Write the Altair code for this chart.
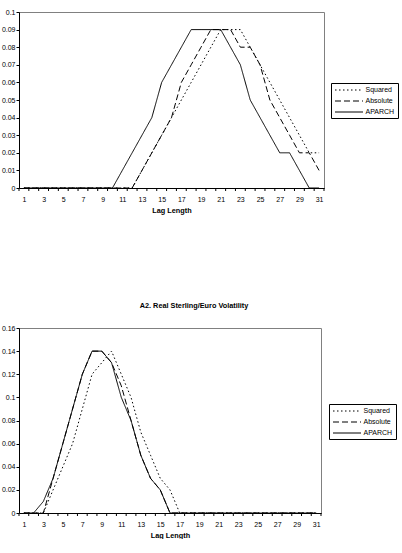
import altair as alt
import pandas as pd

FONT = "Liberation Sans"

lags = list(range(1, 32))
series_names = ["Squared", "Absolute", "APARCH"]
dash_patterns = [[1.5, 2.5], [6, 3], [1, 0]]

# Top panel (lag distribution, first series)
top_squared = [0, 0, 0, 0, 0, 0, 0, 0, 0, 0, 0,
               0, 0.01, 0.02, 0.03, 0.04, 0.05, 0.06, 0.07, 0.08, 0.09,
               0.09, 0.09, 0.08, 0.07, 0.06, 0.05, 0.04, 0.03, 0.02, 0.02]
top_absolute = [0, 0, 0, 0, 0, 0, 0, 0, 0, 0, 0,
                0, 0.01, 0.02, 0.03, 0.04, 0.06, 0.07, 0.08, 0.09, 0.09,
                0.09, 0.08, 0.08, 0.07, 0.05, 0.04, 0.03, 0.02, 0.02, 0.01]
top_aparch = [0, 0, 0, 0, 0, 0, 0, 0, 0, 0,
              0.01, 0.02, 0.03, 0.04, 0.06, 0.07, 0.08, 0.09, 0.09, 0.09,
              0.09, 0.08, 0.07, 0.05, 0.04, 0.03, 0.02, 0.02, 0.01, 0, 0]

# Bottom panel: A2. Real Sterling/Euro Volatility
bot_squared = [0, 0, 0, 0.02, 0.04, 0.06, 0.09, 0.12, 0.13, 0.14,
               0.12, 0.10, 0.07, 0.05, 0.03, 0.02, 0,
               0, 0, 0, 0, 0, 0, 0, 0, 0, 0, 0, 0, 0, 0]
bot_absolute = [0, 0, 0, 0.03, 0.06, 0.09, 0.12, 0.14, 0.14, 0.13,
                0.11, 0.08, 0.05, 0.03, 0.02, 0, 0,
                0, 0, 0, 0, 0, 0, 0, 0, 0, 0, 0, 0, 0, 0]
bot_aparch = [0, 0, 0.01, 0.03, 0.06, 0.09, 0.12, 0.14, 0.14, 0.13,
              0.10, 0.08, 0.05, 0.03, 0.02, 0, 0,
              0, 0, 0, 0, 0, 0, 0, 0, 0, 0, 0, 0, 0, 0]

x_label_values = [1, 3, 5, 7, 9, 11, 13, 15, 17, 19, 21, 23, 25, 27, 29, 31]
x_tick_positions = [i + 0.5 for i in range(0, 32)]
top_y_values = [0, 0.01, 0.02, 0.03, 0.04, 0.05, 0.06, 0.07, 0.08, 0.09, 0.1]
bot_y_values = [0, 0.02, 0.04, 0.06, 0.08, 0.1, 0.12, 0.14, 0.16]
bottom_title = "A2. Real Sterling/Euro Volatility"


def long_df(sq, ab, ap):
    rows = []
    for name, vals in zip(series_names, [sq, ab, ap]):
        for lag, v in zip(lags, vals):
            rows.append({"lag": lag, "series": name, "value": v})
    return pd.DataFrame(rows)


def panel(df, ymax, yvals, w, h, lx, ly, title=None):
    xscale = alt.Scale(domain=[0.5, 31.5], nice=False, zero=False)
    xaxis = alt.Axis(values=x_label_values, title="Lag Length", ticks=False,
                     grid=False, format="d", labelPadding=7, titlePadding=4,
                     labelFlush=False, labelOverlap=False)
    legend = alt.Legend(
        title=None, orient="none", legendX=lx, legendY=ly,
        symbolType="M-4,0H4", symbolSize=49, symbolStrokeWidth=1,
        symbolStrokeColor="black", symbolOffset=11,
        labelFont=FONT, labelFontSize=7, labelColor="black", labelOffset=12.5,
        rowPadding=4, padding=3, strokeColor="black", fillColor="white",
        cornerRadius=0,
    )
    lines = alt.Chart(df).mark_line(color="black", strokeWidth=1).encode(
        x=alt.X("lag:Q", scale=xscale, axis=xaxis),
        y=alt.Y("value:Q", scale=alt.Scale(domain=[0, ymax], nice=False),
                axis=alt.Axis(values=yvals, format=".2~f", title=None, grid=False,
                              tickSize=3, labelPadding=1)),
        strokeDash=alt.StrokeDash("series:N",
                                  scale=alt.Scale(domain=series_names, range=dash_patterns),
                                  legend=legend),
        detail="series:N",
    )
    ticks = alt.Chart(pd.DataFrame({"pos": x_tick_positions})).mark_rule(
        color="black", strokeWidth=1).encode(
        x=alt.X("pos:Q", scale=xscale, axis=xaxis),
        y=alt.value(h), y2=alt.value(h + 3),
    )
    props = dict(width=w, height=h)
    if title:
        props["title"] = alt.TitleParams(title, anchor="middle", dx=24, offset=15,
                                         font=FONT, fontSize=7.3, fontWeight="bold",
                                         color="black")
    return alt.layer(lines, ticks).properties(**props)


top = panel(long_df(top_squared, top_absolute, top_aparch), 0.1, top_y_values,
            305, 176, 312, 71)
bottom = panel(long_df(bot_squared, bot_absolute, bot_aparch), 0.16, bot_y_values,
               302, 185, 310, 76, bottom_title)

chart = alt.vconcat(top, bottom, spacing=87).resolve_scale(
    strokeDash="independent", x="independent", y="independent"
).resolve_legend(strokeDash="independent").properties(
    padding={"left": 0, "top": 7, "right": 0, "bottom": 0}
).configure_view(stroke="#808080", strokeWidth=1).configure_axis(
    domainColor="black", tickColor="black", labelColor="black", labelFont=FONT,
    labelFontSize=7, titleFont=FONT, titleFontSize=7.3, titleFontWeight="bold",
    titleColor="black", domainWidth=1,
)

chart.save("out.html", embed_options={"renderer": "svg", "actions": False})
